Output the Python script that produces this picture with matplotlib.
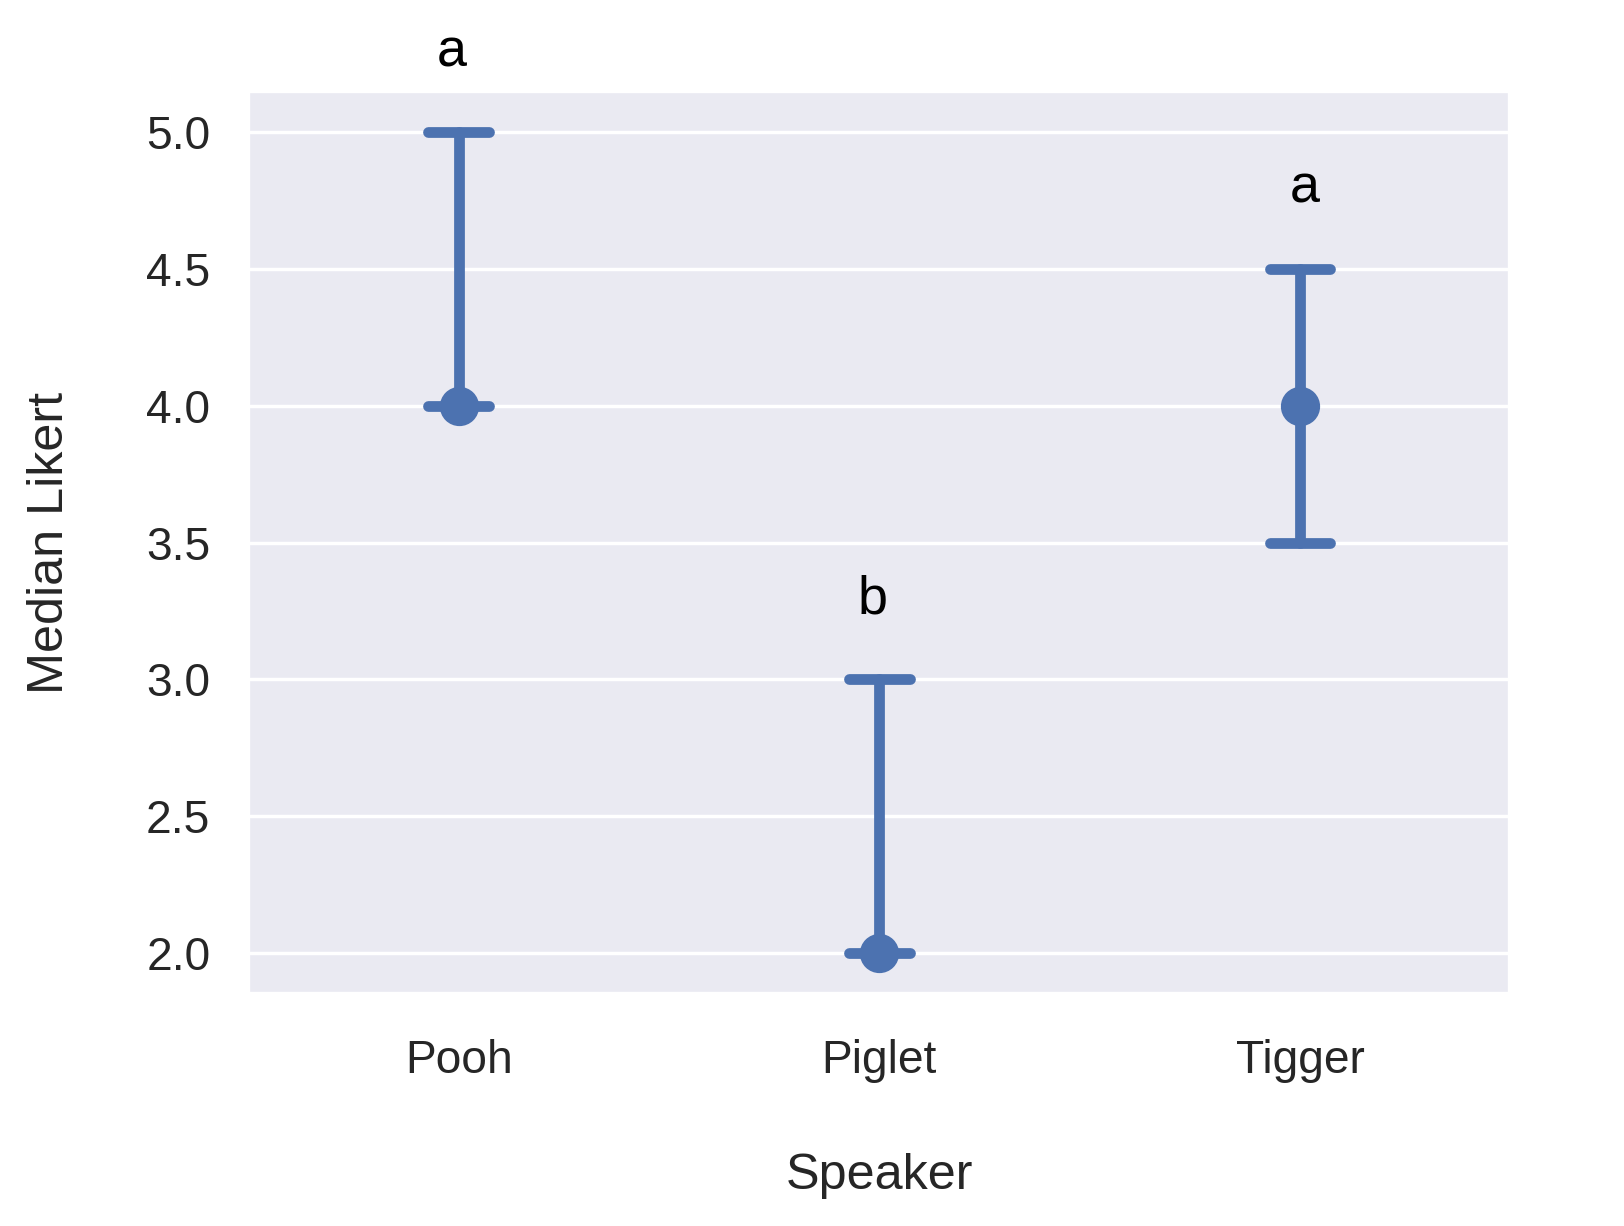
import matplotlib
matplotlib.use("Agg")
import matplotlib.pyplot as plt
import seaborn as sns
import numpy as np

# median likert per speaker, with upper/lower bounds of the interval
speakers = ["Pooh", "Piglet", "Tigger"]
medians = [4.0, 2.0, 4.0]
lower = [4.0, 2.0, 3.5]
upper = [5.0, 3.0, 4.5]
letters = ["a", "b", "a"]

sns.set_theme(style="darkgrid")
plt.rcParams['font.family'] = ['Liberation Sans', 'DejaVu Sans']

BLUE = "#4C72B0"

fig = plt.figure(figsize=(6.496, 4.904), dpi=250)
ax = fig.add_axes([0.153, 0.189, 0.777, 0.737])

x = np.arange(len(speakers))
cap = 0.072
letter_shift = [-0.017, -0.017, 0.012]  # letters sit a touch off-centre

# error bars and caps
ax.vlines(x, lower, upper, color=BLUE, lw=3.1, capstyle="round", zorder=3)
ax.hlines(lower, x - cap, x + cap, color=BLUE, lw=3.1, capstyle="round", zorder=3)
ax.hlines(upper, x - cap, x + cap, color=BLUE, lw=3.1, capstyle="round", zorder=3)
ax.plot(x, medians, "o", color=BLUE, ms=10.3, zorder=4, linestyle="none")

# significance letters
for xi, dx, up, lab in zip(x, letter_shift, upper, letters):
    ax.text(xi + dx, up + 0.2, lab, ha="center", va="bottom",
            fontsize=15.5, color="black")

ax.set_xlim(-0.5, 2.5)
ax.set_ylim(1.85, 5.15)
ax.set_xticks(x)
ax.set_xticklabels(speakers)
ax.set_yticks([2.0, 2.5, 3.0, 3.5, 4.0, 4.5, 5.0])
ax.set_yticklabels(["2.0", "2.5", "3.0", "3.5", "4.0", "4.5", "5.0"])
ax.tick_params(axis="both", labelsize=13.3, labelcolor=".15", length=0)
ax.tick_params(axis="x", pad=13)
ax.tick_params(axis="y", pad=11)
ax.grid(axis="x", visible=False)
ax.grid(axis="y", color="white", lw=1.0)

ax.set_xlabel("Speaker", fontsize=14.5, color=".15", labelpad=20)
ax.set_ylabel("Median Likert", fontsize=14.5, color=".15", labelpad=21)

fig.savefig("out.png", dpi=250)
